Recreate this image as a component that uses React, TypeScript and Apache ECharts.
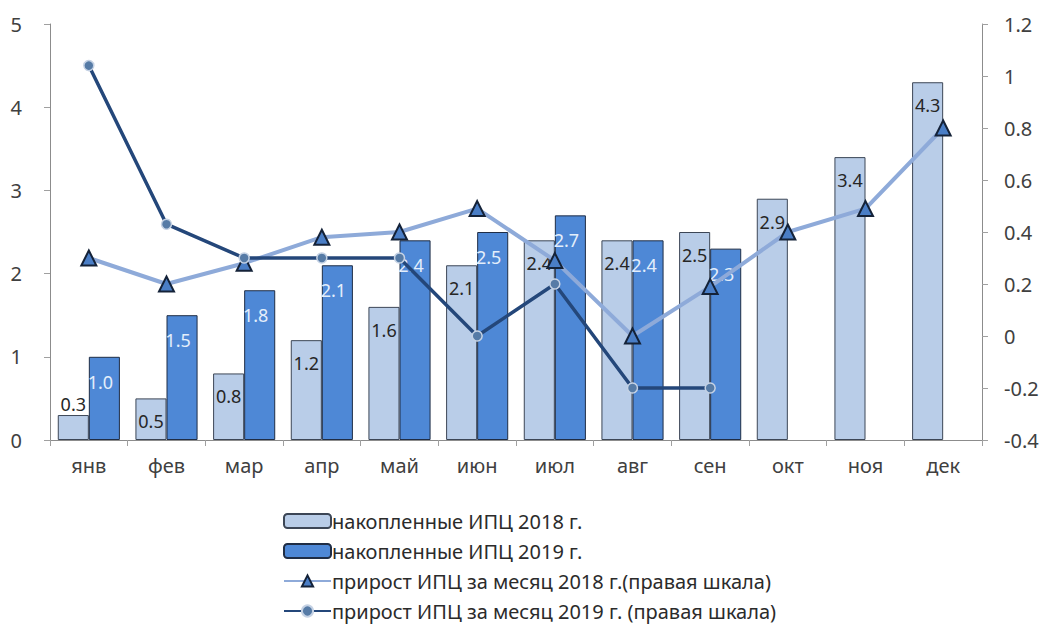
import React, { useEffect, useRef } from "react";
import * as echarts from "echarts";

const months = ["янв", "фев", "мар", "апр", "май", "июн", "июл", "авг", "сен", "окт", "ноя", "дек"];
const cum2018 = [0.3, 0.5, 0.8, 1.2, 1.6, 2.1, 2.4, 2.4, 2.5, 2.9, 3.4, 4.3];
const cum2019 = [1.0, 1.5, 1.8, 2.1, 2.4, 2.5, 2.7, 2.4, 2.3, null, null, null];
const mom2018 = [0.3, 0.2, 0.28, 0.38, 0.4, 0.49, 0.29, 0.0, 0.19, 0.4, 0.49, 0.8];
const mom2019 = [1.04, 0.43, 0.3, 0.3, 0.3, 0.0, 0.2, -0.2, -0.2, null, null, null];
const leftTicks = { min: 0, max: 5, interval: 1 };
const rightTicks = { min: -0.4, max: 1.2, interval: 0.2 };

const names = [
  "накопленные ИПЦ 2018 г.",
  "накопленные ИПЦ 2019 г.",
  "прирост ИПЦ за месяц 2018 г.(правая шкала)",
  "прирост ИПЦ за месяц 2019 г. (правая шкала)",
];

const FONT = "'Noto Sans', 'Open Sans', sans-serif";

export default function App() {
  const ref = useRef<HTMLDivElement>(null);
  useEffect(() => {
    if (!ref.current) return;
    const chart = echarts.init(ref.current, null, { renderer: "svg" });
    const axisLine = { show: true, lineStyle: { color: "#8c8c8c", width: 1 } };
    const fmt = (p: any) => (p.value == null ? "" : Number(p.value).toFixed(1));
    chart.setOption({
      animation: false,
      backgroundColor: "#ffffff",
      textStyle: { fontFamily: FONT },
      grid: { left: 50, right: 65, top: 24, bottom: 186, containLabel: false },
      legend: {
        orient: "vertical",
        left: 283,
        top: 511,
        height: 115,
        padding: 0,
        itemWidth: 47,
        itemHeight: 14,
        itemGap: 10,
        textStyle: { fontSize: 20, color: "#2b2b2b", fontFamily: FONT, padding: [0, 0, 0, -4] },
        data: names,
      },
      xAxis: {
        type: "category",
        data: months,
        axisLine,
        axisTick: { show: true, length: 6, lineStyle: { color: "#a0a0a0" } },
        axisLabel: { fontSize: 20, color: "#404040", margin: 15, fontFamily: FONT },
        splitLine: { show: false },
      },
      yAxis: [
        {
          type: "value",
          ...leftTicks,
          axisLine,
          axisTick: { show: true, length: 6, lineStyle: { color: "#a0a0a0" } },
          axisLabel: { fontSize: 20, color: "#404040", margin: 28, fontFamily: FONT },
          splitLine: { show: false },
        },
        {
          type: "value",
          ...rightTicks,
          position: "right",
          axisLine,
          axisTick: { show: true, length: 6, lineStyle: { color: "#a0a0a0" } },
          axisLabel: { fontSize: 20, color: "#404040", margin: 22, fontFamily: FONT },
          splitLine: { show: false },
        },
      ],
      series: [
        {
          name: names[0],
          type: "bar",
          data: cum2018.map((v) => (v < 0.4 ? { value: v, label: { position: "top", distance: 2 } } : v)),
          barGap: "0%",
          barCategoryGap: "20%",
          itemStyle: { color: "#b9cde8", borderColor: "#3c4656", borderWidth: 1 },
          label: {
            show: true,
            position: "insideTop",
            distance: 14,
            color: "#262626",
            fontSize: 18,
            fontFamily: FONT,
            formatter: fmt,
          },
        },
        {
          name: names[1],
          type: "bar",
          data: cum2019,
          itemStyle: { color: "#4e88d6", borderColor: "#1f2d45", borderWidth: 1 },
          label: {
            show: true,
            position: "insideTop",
            distance: 16,
            offset: [-4, 0],
            color: "#e3eefb",
            fontSize: 18,
            fontFamily: FONT,
            formatter: fmt,
          },
        },
        {
          name: names[2],
          type: "line",
          yAxisIndex: 1,
          data: mom2018,
          symbol: "triangle",
          symbolSize: 15,
          lineStyle: { color: "#8eaad9", width: 4 },
          itemStyle: { color: "#4a7ec6", borderColor: "#142238", borderWidth: 2 },
          z: 3,
        },
        {
          name: names[3],
          type: "line",
          yAxisIndex: 1,
          data: mom2019,
          symbol: "circle",
          symbolSize: 10,
          connectNulls: false,
          lineStyle: { color: "#24477a", width: 3.5 },
          itemStyle: { color: "#567ba6", borderColor: "#c5d2e4", borderWidth: 1.5 },
          z: 4,
        },
      ],
    });
    return () => chart.dispose();
  }, []);
  return (
    <div
      ref={ref}
      style={{ position: "fixed", left: 0, top: 0, width: 1047, height: 626, background: "#fff" }}
    />
  );
}
